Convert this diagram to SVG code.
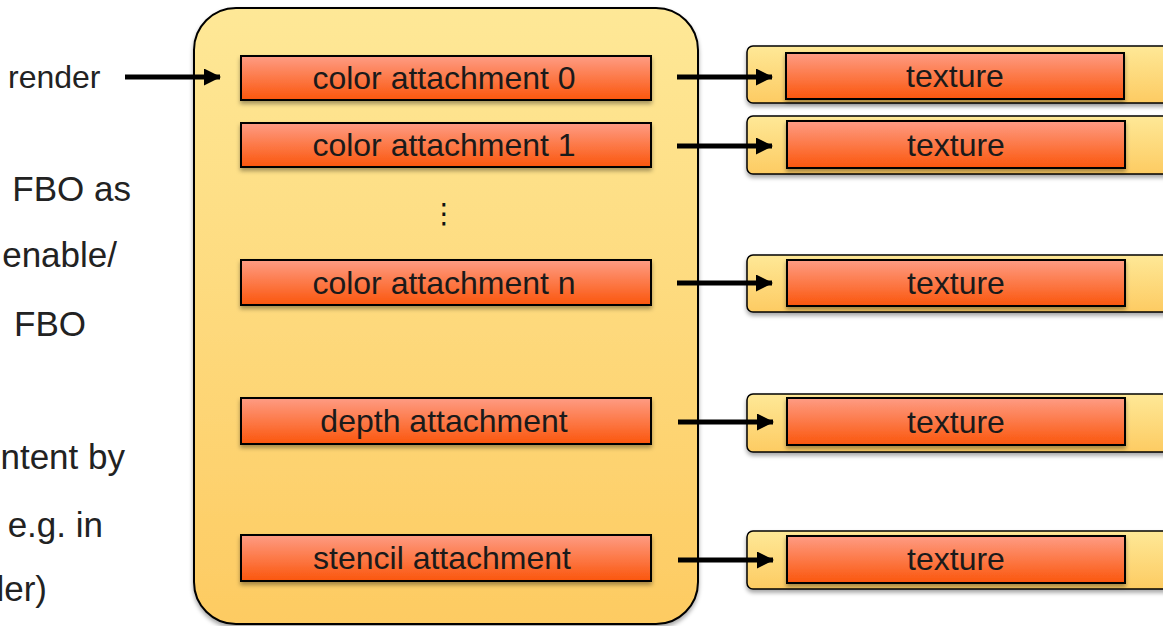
<svg xmlns="http://www.w3.org/2000/svg" width="1163" height="626" viewBox="0 0 1163 626">
<defs>
<linearGradient id="gY" x1="0" y1="0" x2="0" y2="1">
<stop offset="0" stop-color="#FEE897"/>
<stop offset="1" stop-color="#FDCB62"/>
</linearGradient>
<linearGradient id="gO" x1="0" y1="0" x2="0" y2="1">
<stop offset="0" stop-color="#FE9C84"/>
<stop offset="1" stop-color="#FB560C"/>
</linearGradient>
<filter id="sh" x="-10%" y="-20%" width="120%" height="150%">
<feDropShadow dx="0" dy="3" stdDeviation="2" flood-color="#000" flood-opacity="0.35"/>
</filter>
<marker id="ah" viewBox="0 0 17 17" refX="16" refY="8.5" markerWidth="17" markerHeight="17" markerUnits="userSpaceOnUse" orient="auto">
<path d="M0,0 L17,8.5 L0,17 Z" fill="#000"/>
</marker>
<style>
.lt{font-family:"Liberation Sans",Arial,sans-serif;font-size:35px;fill:#222}
.bt{font-family:"Liberation Sans",Arial,sans-serif;font-size:32px;fill:#1a1a1a;text-anchor:middle}
.cont{fill:url(#gY);stroke:#000;stroke-width:2;filter:url(#sh)}
.tx{fill:url(#gY);stroke:#000;stroke-width:1.5;filter:url(#sh)}
.box{fill:url(#gO);stroke:#000;stroke-width:2;filter:url(#sh)}
.ar{stroke:#000;stroke-width:5;fill:none;marker-end:url(#ah)}
</style>
</defs>
<g id="left-text">
<text class="lt" x="8" y="88" style="font-size:32px">render</text>
<text class="lt" x="131" y="201" text-anchor="end">FBO as</text>
<text class="lt" x="117" y="267" text-anchor="end">enable/</text>
<text class="lt" x="86" y="336" text-anchor="end">FBO</text>
<text class="lt" x="125" y="469" text-anchor="end">ntent by</text>
<text class="lt" x="103" y="537" text-anchor="end">e.g. in</text>
<text class="lt" x="47" y="601" text-anchor="end">ler)</text>
</g>
<g id="fbo">
<rect class="cont" x="194" y="8" width="504" height="616" rx="42"/>
</g>
<g id="ca0"><rect class="box" x="241" y="56" width="410" height="44"/><text class="bt" x="444" y="89">color attachment 0</text></g>
<g id="ca1"><rect class="box" x="241" y="123" width="410" height="44"/><text class="bt" x="444" y="156">color attachment 1</text></g>
<g id="dots"><text x="444" y="223" font-family="DejaVu Sans,sans-serif" font-size="28" text-anchor="middle" fill="#111">⋮</text></g>
<g id="can"><rect class="box" x="241" y="260" width="410" height="45"/><text class="bt" x="444" y="294">color attachment n</text></g>
<g id="depth"><rect class="box" x="241" y="398" width="410" height="46"/><text class="bt" x="444" y="432">depth attachment</text></g>
<g id="stencil"><rect class="box" x="241" y="535" width="410" height="46"/><text class="bt" x="442" y="569">stencil attachment</text></g>
<g id="tex0"><rect class="tx" x="747" y="46" width="430" height="57" rx="6"/><rect class="box" x="786" y="53" width="338" height="46"/><text class="bt" x="955" y="87">texture</text></g>
<g id="tex1"><rect class="tx" x="747" y="116" width="430" height="58" rx="6"/><rect class="box" x="787" y="121" width="338" height="47"/><text class="bt" x="956" y="156">texture</text></g>
<g id="texn"><rect class="tx" x="747" y="255" width="430" height="57" rx="6"/><rect class="box" x="787" y="260" width="338" height="46"/><text class="bt" x="956" y="294">texture</text></g>
<g id="texd"><rect class="tx" x="747" y="394" width="430" height="58" rx="6"/><rect class="box" x="787" y="398" width="338" height="47"/><text class="bt" x="956" y="433">texture</text></g>
<g id="texs"><rect class="tx" x="747" y="531" width="430" height="58" rx="6"/><rect class="box" x="787" y="536" width="338" height="47"/><text class="bt" x="956" y="570">texture</text></g>
<g id="connectors">
<line class="ar" x1="125" y1="77" x2="220" y2="77"/>
<line class="ar" x1="677" y1="77" x2="772" y2="77"/>
<line class="ar" x1="677" y1="146" x2="772" y2="146"/>
<line class="ar" x1="677" y1="283" x2="772" y2="283"/>
<line class="ar" x1="678" y1="422" x2="773" y2="422"/>
<line class="ar" x1="678" y1="560" x2="773" y2="560"/>
</g>
</svg>
